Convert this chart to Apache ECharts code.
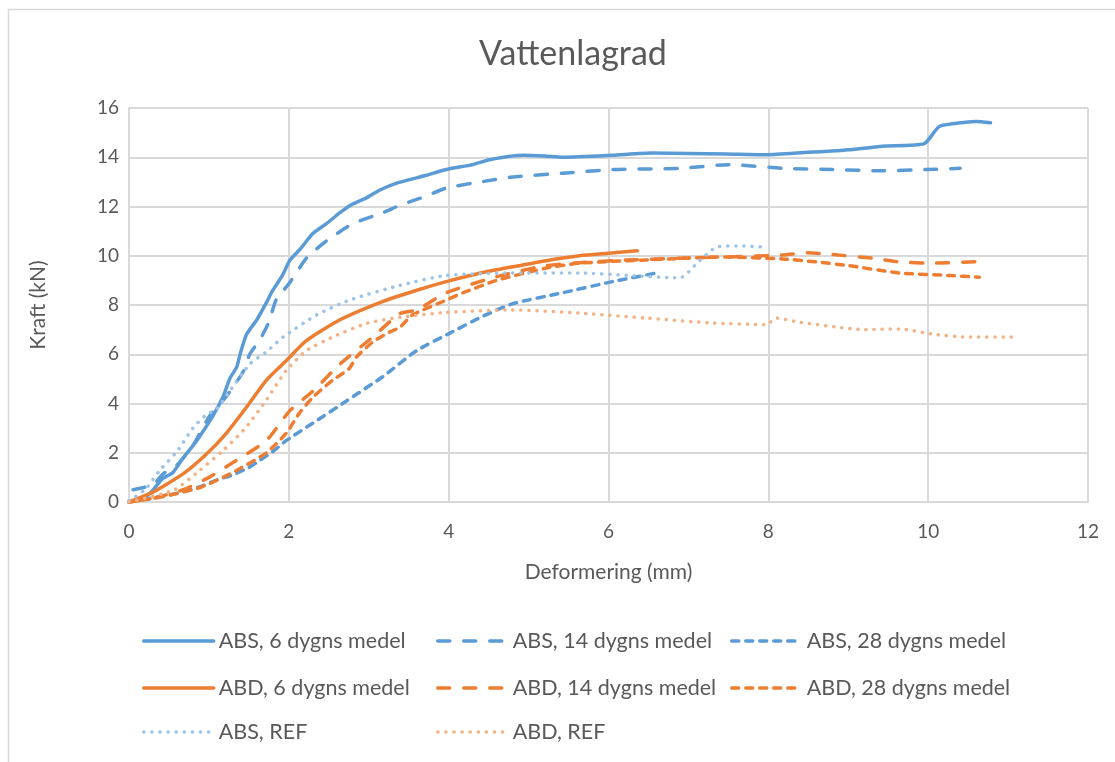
<!DOCTYPE html>
<html>
<head>
<meta charset="utf-8">
<title>Vattenlagrad</title>
<script src="https://cdn.jsdelivr.net/npm/echarts@6/dist/echarts.min.js"></script>
<style>
  html, body { margin: 0; padding: 0; background: #ffffff; }
  #chart { width: 1115px; height: 762px; }
</style>
</head>
<body>
<div id="chart"></div>
<script>
// Deformering (mm) vs Kraft (kN), averaged curves per storage time
const seriesNames = [
  'ABS, 6 dygns medel', 'ABS, 14 dygns medel', 'ABS, 28 dygns medel',
  'ABD, 6 dygns medel', 'ABD, 14 dygns medel', 'ABD, 28 dygns medel',
  'ABS, REF', 'ABD, REF'
];

const xTicks = [0, 2, 4, 6, 8, 10, 12];
const yTicks = [0, 2, 4, 6, 8, 10, 12, 14, 16];

const absDay6 = [
  [0,0],[0.1,0.08],[0.26,0.35],[0.42,0.95],[0.55,1.2],[0.68,1.8],[0.85,2.5],[1.05,3.5],
  [1.18,4.3],[1.26,5.0],[1.35,5.5],[1.39,6.0],[1.47,6.8],[1.6,7.4],[1.72,8.1],[1.8,8.6],
  [1.92,9.2],[2.01,9.8],[2.15,10.3],[2.3,10.9],[2.47,11.3],[2.64,11.75],[2.8,12.1],
  [2.97,12.35],[3.14,12.67],[3.35,12.95],[3.7,13.25],[3.97,13.5],[4.3,13.7],[4.51,13.9],
  [4.93,14.08],[5.2,14.05],[5.43,14.0],[6.05,14.08],[6.55,14.17],[7.0,14.15],[7.47,14.13],
  [7.97,14.1],[8.5,14.2],[8.8,14.25],[9.0,14.3],[9.43,14.45],[9.95,14.55],[10.14,15.25],
  [10.47,15.42],[10.6,15.45],[10.78,15.4]
];

const absDay14 = [
  [0.05,0.5],[0.3,0.7],[0.43,1.15],[0.6,1.5],[0.8,2.3],[1.01,3.5],[1.22,4.3],[1.43,5.3],
  [1.51,6.0],[1.64,6.6],[1.75,7.3],[1.84,8.2],[2.01,8.9],[2.22,9.9],[2.47,10.6],[2.8,11.3],
  [3.18,11.75],[3.39,12.05],[3.7,12.4],[3.97,12.75],[4.4,13.0],[4.8,13.2],[5.43,13.35],
  [6.05,13.5],[6.89,13.55],[7.5,13.7],[8.18,13.55],[8.8,13.5],[9.43,13.45],[9.97,13.5],
  [10.4,13.55]
];

const absDay28 = [
  [0,0],[0.26,0.15],[0.6,0.35],[0.89,0.62],[1.1,0.9],[1.3,1.1],[1.5,1.4],[1.64,1.7],
  [1.8,2.05],[1.97,2.5],[2.3,3.2],[2.72,4.1],[3.18,5.1],[3.6,6.15],[4.01,6.85],[4.4,7.5],
  [4.8,8.05],[5.43,8.5],[6.05,8.95],[6.6,9.3]
];

const abdDay6 = [
  [0,0],[0.3,0.4],[0.68,1.15],[0.97,1.95],[1.22,2.8],[1.47,3.85],[1.72,4.95],[1.97,5.75],
  [2.22,6.55],[2.64,7.4],[3.18,8.15],[3.6,8.6],[3.97,8.95],[4.4,9.3],[4.8,9.55],[5.22,9.8],
  [5.64,10.0],[6.0,10.1],[6.36,10.2]
];

const abdDay14 = [
  [0,0],[0.3,0.15],[0.68,0.5],[1.0,1.0],[1.3,1.6],[1.72,2.5],[2.01,3.7],[2.3,4.5],
  [2.64,5.6],[3.05,6.7],[3.39,7.65],[3.6,7.8],[3.97,8.5],[4.6,9.15],[5.22,9.6],[6.05,9.8],
  [6.89,9.9],[7.47,9.95],[8.18,10.03],[8.5,10.12],[8.8,10.05],[9.3,9.9],[9.64,9.75],
  [10.05,9.7],[10.68,9.77]
];

const abdDay28 = [
  [0,0],[0.4,0.2],[0.9,0.6],[1.3,1.2],[1.72,2.0],[1.97,2.8],[2.13,3.6],[2.3,4.25],
  [2.55,4.95],[2.75,5.4],[2.85,5.9],[3.05,6.5],[3.26,6.9],[3.39,7.1],[3.55,7.6],[3.97,8.2],
  [4.18,8.5],[4.6,9.0],[5.22,9.5],[5.64,9.7],[6.47,9.83],[7.47,9.95],[8.18,9.87],
  [8.6,9.75],[9.0,9.6],[9.64,9.3],[10.26,9.2],[10.64,9.13]
];

const absRef = [
  [0,0.05],[0.2,0.5],[0.39,1.3],[0.6,2.05],[0.8,3.0],[0.95,3.5],[1.1,3.8],[1.26,4.5],
  [1.51,5.6],[1.72,6.1],[1.93,6.7],[2.35,7.6],[2.76,8.2],[3.39,8.8],[3.97,9.2],[4.8,9.3],
  [5.64,9.3],[6.26,9.2],[6.89,9.1],[7.14,9.8],[7.35,10.35],[7.64,10.4],[7.97,10.35]
];

const abdRef = [
  [0,0],[0.56,0.48],[0.89,1.3],[1.18,2.1],[1.47,3.05],[1.72,4.15],[1.97,5.35],[2.22,6.15],
  [2.55,6.7],[2.97,7.25],[3.39,7.5],[3.97,7.7],[4.8,7.8],[5.64,7.67],[6.47,7.47],[7.3,7.27],
  [7.97,7.2],[8.1,7.47],[8.39,7.3],[9.22,7.0],[9.64,7.03],[10.05,6.82],[10.47,6.7],[11.05,6.7]
];

const seriesData = [absDay6, absDay14, absDay28, abdDay6, abdDay14, abdDay28, absRef, abdRef];

const BLUE = '#5B9BD5', ORANGE = '#ED7D31', LIGHT_BLUE = '#9DC3E6', LIGHT_ORANGE = '#F4B183';
const TEXT = '#595959', GRID = '#D9D9D9';
const FONT = 'Lato, "Open Sans", sans-serif';

const SOLID = 'solid';
const LONG_DASH = [12, 14];
const SHORT_DASH = [7, 7];
const DOT = [0.1, 8];

const styles = [
  { color: BLUE, type: SOLID },
  { color: BLUE, type: LONG_DASH },
  { color: BLUE, type: SHORT_DASH },
  { color: ORANGE, type: SOLID },
  { color: ORANGE, type: LONG_DASH },
  { color: ORANGE, type: SHORT_DASH },
  { color: LIGHT_BLUE, type: DOT },
  { color: LIGHT_ORANGE, type: DOT }
];

const series = seriesNames.map((name, i) => ({
  name: name,
  type: 'line',
  data: seriesData[i],
  showSymbol: false,
  symbol: 'none',
  smooth: 0.2,
  animation: false,
  color: styles[i].color,
  lineStyle: { color: styles[i].color, width: 3.5, type: styles[i].type, cap: 'round', join: 'round' },
  z: 2 + i
}));

// three-column legend grid, one legend block per entry
const legendCols = [142, 436, 730];
const legendRows = [630, 677, 721];
const legends = seriesNames.map((name, i) => ({
  show: true,
  data: [name],
  orient: 'horizontal',
  left: legendCols[i % 3],
  top: legendRows[Math.floor(i / 3)],
  padding: 0,
  itemWidth: 70,
  itemHeight: 22,
  itemGap: 0,
  itemStyle: { opacity: 0, borderWidth: 0 },
  lineStyle: { width: 3.5, cap: 'round' },
  textStyle: { color: TEXT, fontSize: 21.5, fontFamily: FONT },
  selectedMode: false
}));

const chart = echarts.init(document.getElementById('chart'), null, { renderer: 'canvas' });
chart.setOption({
  backgroundColor: '#ffffff',
  animation: false,
  title: {
    text: 'Vattenlagrad',
    left: 474,
    top: 32,
    textStyle: { color: TEXT, fontSize: 34, fontWeight: 'normal', fontFamily: FONT }
  },
  legend: legends,
  grid: { left: 129, right: 27, top: 108, bottom: 260, containLabel: false },
  xAxis: {
    type: 'value',
    min: xTicks[0],
    max: xTicks[xTicks.length - 1],
    interval: 2,
    name: 'Deformering (mm)',
    nameLocation: 'middle',
    nameGap: 60,
    nameTextStyle: { color: TEXT, fontSize: 21, fontFamily: FONT },
    axisLine: { show: true, lineStyle: { color: GRID, width: 2 } },
    axisTick: { show: false },
    axisLabel: { color: TEXT, fontSize: 19, fontFamily: FONT, margin: 20 },
    splitLine: { show: true, lineStyle: { color: GRID, width: 2 } }
  },
  yAxis: {
    type: 'value',
    min: yTicks[0],
    max: yTicks[yTicks.length - 1],
    interval: 2,
    name: 'Kraft (kN)',
    nameLocation: 'middle',
    nameGap: 80,
    nameTextStyle: { color: TEXT, fontSize: 21, fontFamily: FONT },
    axisLine: { show: true, lineStyle: { color: GRID, width: 2 } },
    axisTick: { show: false },
    axisLabel: { color: TEXT, fontSize: 19, fontFamily: FONT, margin: 10 },
    splitLine: { show: true, lineStyle: { color: GRID, width: 2 } }
  },
  graphic: [
    { type: 'line', silent: true, shape: { x1: 8, y1: 9.5, x2: 1115, y2: 9.5 }, style: { stroke: GRID, lineWidth: 1.5 } },
    { type: 'line', silent: true, shape: { x1: 8.5, y1: 9, x2: 8.5, y2: 762 }, style: { stroke: GRID, lineWidth: 1.5 } }
  ],
  series: series
});
</script>
</body>
</html>
